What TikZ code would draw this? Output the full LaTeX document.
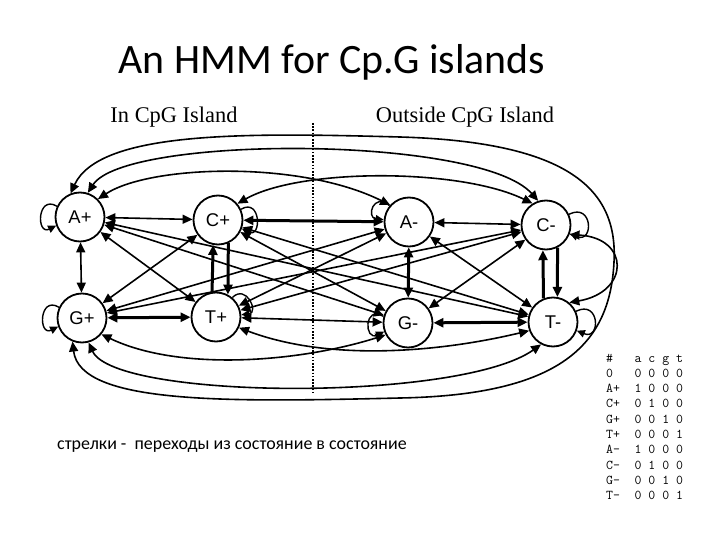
\documentclass[tikz,border=0pt]{standalone}
\usepackage{fontspec}
\setmainfont{Carlito}
\newfontfamily\statefont{Liberation Sans}
\newfontfamily\regionfont{Liberation Serif}
\usetikzlibrary{arrows.meta}

\begin{document}
\begin{tikzpicture}[
  x=1bp, y=-1bp,
  state/.style={circle, draw, line width=1.8bp, fill=white, minimum size=49bp, inner sep=0pt, font=\statefont\fontsize{18.5}{20}\selectfont},
  hop/.style={line width=1.6bp, -{Triangle[length=10bp,width=9bp]}},
  hops/.style={line width=1.6bp, {Triangle[length=10bp,width=9bp]}-{Triangle[length=10bp,width=9bp]}},
  heavy/.style={line width=3bp},
  selfloop/.style={line width=1.4bp, -{Triangle[length=8bp,width=7.5bp]}},
  caption/.style={inner sep=0pt},
  tabrow/.style={inner sep=0pt, anchor=base west, font=\ttfamily\fontsize{13.5}{15}\selectfont}
]
\useasboundingbox (0,0) rectangle (720,540);

% titles
\node[caption, anchor=base, font=\fontsize{42}{46}\selectfont] (title) at (332,74) {An HMM for Cp.G islands};
\node[caption, anchor=base, font=\regionfont\fontsize{22.5}{25}\selectfont] (inside) at (174,123) {In CpG Island};
\node[caption, anchor=base, font=\regionfont\fontsize{22.5}{25}\selectfont] (outside) at (465,123) {Outside CpG Island};

% divider
\draw[line width=1.6bp, dash pattern=on 1.6bp off 1.6bp] (313,123) -- (313,392);

% states
\node[state] (Ap) at (80,217) {A+};
\node[state] (Cp) at (218,220) {C+};
\node[state] (Gp) at (82,318) {G+};
\node[state] (Tp) at (216,317) {T+};
\node[state] (Am) at (409,222) {A-};
\node[state] (Cm) at (546,225) {C-};
\node[state] (Gm) at (408,323) {G-};
\node[state] (Tm) at (553,322) {T-};

% inside the island
\draw[hops] (Ap) -- (Cp);
\draw[hops] (Ap) -- (Gp);
\draw[hops, heavy] (Gp) -- (Tp);
\draw[hops] (Ap) -- (Tp);
\draw[hops] (Cp) -- (Gp);
\draw[hop, heavy] (Tp.99) -- (Cp.-101);
\draw[hop, heavy] (Cp.-66) -- (Tp.62);

% outside the island
\draw[hops] (Am) -- (Cm);
\draw[hops, heavy] (Am) -- (Gm);
\draw[hops, heavy] (Gm) -- (Tm);
\draw[hops] (Am) -- (Tm);
\draw[hops] (Cm) -- (Gm);
\draw[hop, heavy] (Tm.112) -- (Cm.-97);
\draw[hop, heavy] (Cm.-63) -- (Tm.80);

% across
\draw[hops, heavy] (Cp) -- (Am);
\draw[hops] (Tp) -- (Gm);
\draw[hops] (Ap) -- (Gm);
\draw[hops] (Ap) -- (Tm);
\draw[hops] (Cp) -- (Gm);
\draw[hops] (Cp) -- (Tm);
\draw[hops] (Gp) -- (Am);
\draw[hops] (Gp) -- (Cm);
\draw[hops] (Tp) -- (Am);
\draw[hops] (Tp) -- (Cm);

% arcs over the top and under the bottom
\draw[hops] (Ap.72) .. controls (125,135) and (480,135) .. (Cm.108);
\draw[hops] (Ap.45) .. controls (150,165) and (300,160) .. (Am.138);
\draw[hops] (Cp.40) .. controls (300,168) and (460,168) .. (Cm.122);
\draw[hops] (Gp.-75) .. controls (115,400) and (460,402) .. (Tm.-118);
\draw[hops] (Gp.-40) .. controls (180,372) and (300,362) .. (Gm.-152);
\draw[hops] (Tp.-25) .. controls (330,362) and (440,352) .. (Tm.-160);
\draw[hops] (Ap.112) .. controls (100,130) and (250,133) .. (400,137)
  .. controls (570,142) and (618,190) .. (614,262)
  .. controls (610,345) and (560,395) .. (400,398)
  .. controls (230,402) and (80,405) .. (Gp.-112);
\draw[hops] (Cm.-22) .. controls (630,238) and (630,292) .. (Tm.50);

% self loops
\draw[selfloop] (Ap.155) .. controls +(-20,-12) and +(-20,10) .. (Ap.200);
\draw[selfloop] (Gp.155) .. controls +(-20,-12) and +(-20,10) .. (Gp.200);
\draw[selfloop] (Cp.25) .. controls +(20,-12) and +(20,10) .. (Cp.-20);
\draw[selfloop] (Tp.50) .. controls +(14,-14) and +(18,-2) .. (Tp.5);
\draw[selfloop] (Am.140) .. controls +(-16,-14) and +(-18,-2) .. (Am.175);
\draw[selfloop] (Gm.165) .. controls +(-20,-12) and +(-20,10) .. (Gm.200);
\draw[selfloop] (Cm.25) .. controls +(24,-12) and +(24,10) .. (Cm.-20);
\draw[selfloop] (Tm.25) .. controls +(24,-12) and +(24,10) .. (Tm.-20);

% note
\node[caption, anchor=base west, font=\fontsize{18}{20}\selectfont] (note) at (57,449) {стрелки -\ \ переходы из состояние в состояние};

% emission table
\foreach \lbl/\bits [count=\i from 0] in {\#/a c g t, 0/0 0 0 0, A+/1 0 0 0, C+/0 1 0 0, G+/0 0 1 0, T+/0 0 0 1, A-/1 0 0 0, C-/0 1 0 0, G-/0 0 1 0, T-/0 0 0 1}
  \node[tabrow] (row\i) at (606, 362+15.33*\i) {\makebox[28.35bp][l]{\lbl}\bits};
\end{tikzpicture}
\end{document}
